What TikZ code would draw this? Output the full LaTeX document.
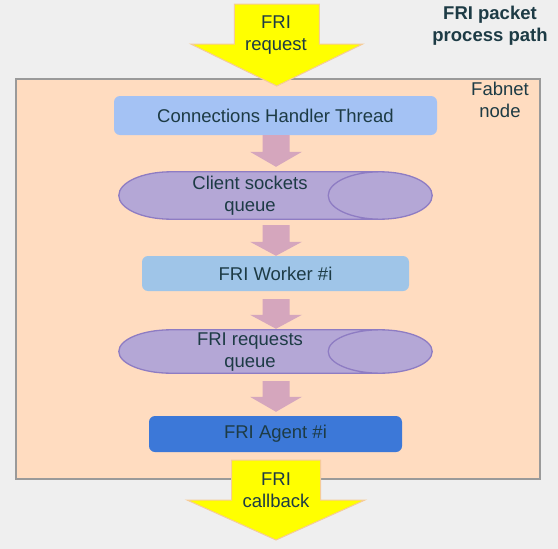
\documentclass[tikz,border=0pt]{standalone}
\usepackage{fontspec}
\setmainfont{Liberation Sans}
\usetikzlibrary{calc}
\definecolor{bg}{HTML}{EFEFEF}
\definecolor{peach}{HTML}{FFDCC0}
\definecolor{frame}{HTML}{9A9A9A}
\definecolor{yel}{HTML}{FFFF00}
\definecolor{yelb}{HTML}{F6CB98}
\definecolor{pinka}{HTML}{D5A6BD}
\definecolor{lblue}{HTML}{A4C2F4}
\definecolor{wblue}{HTML}{9FC5E8}
\definecolor{ablue}{HTML}{3C78D8}
\definecolor{purp}{HTML}{B4A7D6}
\definecolor{purpb}{HTML}{8E7CC3}
\definecolor{txt}{HTML}{1D3B45}
\newcommand\blockarr[6]{%
  \path[#1] let \p1=(#2), \p2=(#3) in
    (\x2,\y2) -- (\x2-#5,\y2+#6) -- (\x2-#4,\y2+#6) -- (\x2-#4,\y1)
    -- (\x2+#4,\y1) -- (\x2+#4,\y2+#6) -- (\x2+#5,\y2+#6) -- cycle;}
\newcommand\cyl[1]{%
  \path[cylstyle] let \p1=(#1.north west), \p2=(#1.south east),
    \n1={(\y1-\y2)/2} in
    (\x1+52pt,\y1) arc[start angle=90,end angle=270,x radius=52pt,y radius=\n1]
    -- (\x2-52pt,\y2) arc[start angle=-90,end angle=90,x radius=52pt,y radius=\n1] -- cycle
    (\x2,\y2+\n1) arc[start angle=0,end angle=360,x radius=52pt,y radius=\n1];}
\tikzset{
  lbl/.style={font=\fontsize{18.5}{21.5}\selectfont, text=txt, align=center, inner sep=0pt},
  boxstyle/.style={rounded corners=6pt, inner sep=0pt},
  cylstyle/.style={fill=purp, draw=purpb, line width=1.3pt},
  pinkarr/.style={fill=pinka},
  yelarr/.style={fill=yel, draw=yelb, line width=1pt, line join=miter},
}
\begin{document}
\begin{tikzpicture}[x=1pt,y=-1pt]
\fill[bg] (0,0) rectangle (558,549);
\useasboundingbox (0,0) rectangle (558,549);
\node[draw=frame, line width=1.5pt, fill=peach, minimum width=524pt, minimum height=400pt, anchor=north west, inner sep=0pt] (fab) at (15,78) {};
\node[lbl] (fabl) at (500,100) {Fabnet\\node};
\node[lbl, font=\fontsize{18.5}{22}\selectfont\bfseries] (title) at (490,26) {FRI packet\\process path};
% boxes
\node[boxstyle, fill=lblue, minimum width=323pt, minimum height=39pt] (cht) at (275.5,115.5) {};
\node[lbl] at (cht) {Connections Handler Thread};
\node[inner sep=0pt, minimum width=313pt, minimum height=47pt] (q1) at (275.5,195.5) {};
\cyl{q1}
\node[lbl] (q1t) at (250,195.5) {Client sockets\\queue};
\node[boxstyle, fill=wblue, minimum width=267pt, minimum height=35pt] (wrk) at (275.5,273.5) {};
\node[lbl] at (wrk) {FRI Worker \#i};
\node[inner sep=0pt, minimum width=313pt, minimum height=43pt] (q2) at (275.5,351.5) {};
\cyl{q2}
\node[lbl] (q2t) at (250,352) {FRI requests\\queue};
\node[boxstyle, fill=ablue, minimum width=253pt, minimum height=36pt] (agt) at (275.5,434) {};
\node[lbl] at (agt) {FRI Agent \#i};
% pink arrows
\coordinate (a1s) at ($(cht.south)+(0.5,0)$);
\coordinate (a1e) at ($(q1.north)+(0.5,-5)$);
\blockarr{pinkarr}{a1s}{a1e}{13.5pt}{26pt}{15pt}
\coordinate (a2s) at ($(q1.south)+(0.5,6)$);
\coordinate (a2e) at ($(wrk.north)+(0.5,0)$);
\blockarr{pinkarr}{a2s}{a2e}{13.5pt}{26pt}{14pt}
\coordinate (a3s) at ($(wrk.south)+(0.5,8)$);
\coordinate (a3e) at ($(q2.north)+(0.5,-1)$);
\blockarr{pinkarr}{a3s}{a3e}{13.5pt}{26pt}{14pt}
\coordinate (a4s) at ($(q2.south)+(0.5,8)$);
\coordinate (a4e) at ($(agt.north)+(0.5,-4)$);
\blockarr{pinkarr}{a4s}{a4e}{13.5pt}{26pt}{15pt}
% yellow arrows
\coordinate (rqs) at (276,4);
\coordinate (rqe) at ($(fab.north)+(-1,8)$);
\blockarr{yelarr}{rqs}{rqe}{42.5pt}{86pt}{42pt}
\node[lbl] (req) at (276,35) {FRI\\request};
\coordinate (cbs) at ($(agt.south)+(0.5,8)$);
\coordinate (cbe) at (276,540);
\blockarr{yelarr}{cbs}{cbe}{44.5pt}{89pt}{40pt}
\node[lbl] (cb) at (276,490) {FRI\\callback};
\end{tikzpicture}
\end{document}
